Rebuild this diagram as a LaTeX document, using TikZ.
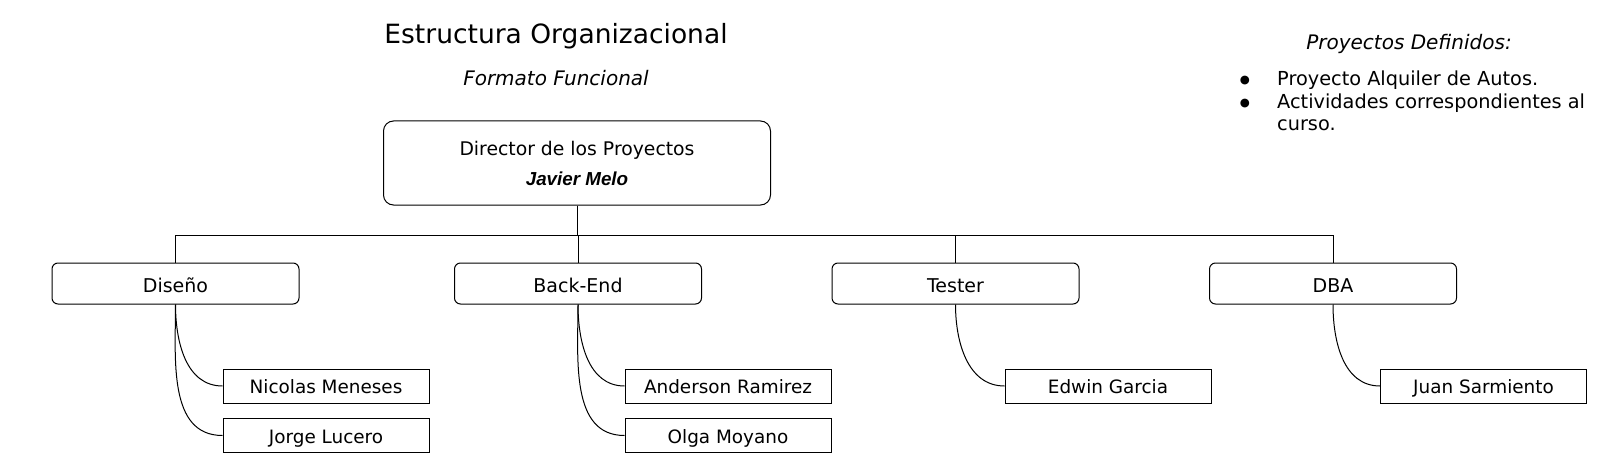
\documentclass[tikz,border=0pt]{standalone}
\usepackage{fontspec}
\setmainfont{DejaVu Sans}
\newfontfamily\arialfont{Liberation Sans}
\usetikzlibrary{positioning}

\tikzset{
  boss/.style={draw,line width=1pt,rounded corners=10pt,minimum width=387pt,minimum height=84pt,align=center,font=\fontsize{18.8}{30}\selectfont},
  area/.style={draw,line width=1pt,rounded corners=6pt,minimum width=247pt,minimum height=41pt,text height=18pt,text depth=0pt,font=\fontsize{19}{22}\selectfont},
  member/.style={draw,line width=1pt,minimum width=206pt,minimum height=34pt,text height=15pt,text depth=0pt,font=\fontsize{18.4}{22}\selectfont},
  link/.style={line width=1pt},
  listtext/.style={inner sep=0pt,align=left,font=\fontsize{19.3}{22.5}\selectfont},
  dot/.style={inner sep=0pt,anchor=base,font=\fontsize{11.5}{13}\selectfont},
}

\begin{document}
\begin{tikzpicture}[x=1pt,y=-1pt]
\useasboundingbox (0,0) rectangle (1617,468);

% titulos
\node[font=\fontsize{26.5}{30}\selectfont] (title) at (556,36) {Estructura Organizacional};
\node[font=\fontsize{20}{24}\selectfont\itshape] (subtitle) at (556,78) {Formato Funcional};

% director
\node[boss] (dir) at (577,163) {Director de los Proyectos\\{\arialfont\bfseries\itshape Javier Melo}};

% areas
\coordinate (bus) at (0,235);
\node[area] (dis) at (175.5,283.5) {Diseño};
\node[area] (back) at (578,283.5) {Back-End};
\node[area] (tes) at (955.5,283.5) {Tester};
\node[area] (dba) at (1333,283.5) {DBA};

\foreach \a in {dis,back,tes,dba}
  \draw[link] (dir.south) -- (dir.south |- bus) -| (\a.north);

% integrantes
\node[member] (nic) at (326,386) {Nicolas Meneses};
\node[member] (jor) at (326,435.5) {Jorge Lucero};
\node[member] (and) at (728,386) {Anderson Ramirez};
\node[member] (olg) at (728,435.5) {Olga Moyano};
\node[member] (edw) at (1108,386) {Edwin Garcia};
\node[member] (jua) at (1483.5,386) {Juan Sarmiento};

\draw[link] (dis.south) to[out=-90,in=180] (nic.west);
\draw[link] (dis.south) to[out=-90,in=180] (jor.west);
\draw[link] (back.south) to[out=-90,in=180] (and.west);
\draw[link] (back.south) to[out=-90,in=180] (olg.west);
\draw[link] (tes.south) to[out=-90,in=180] (edw.west);
\draw[link] (dba.south) to[out=-90,in=180] (jua.west);

% proyectos
\node[font=\fontsize{20}{24}\selectfont\itshape] (proy) at (1409,44) {Proyectos Definidos:};
\node[dot] (bul1) at (1245,84) {●};
\node[dot] (bul2) at (1245,107) {●};
\node[listtext,anchor=base west] (item1) at (1277,86) {Proyecto Alquiler de Autos.};
\node[listtext,anchor=base west] (item2) at (1277,131) {Actividades correspondientes al\\curso.};
\end{tikzpicture}
\end{document}
